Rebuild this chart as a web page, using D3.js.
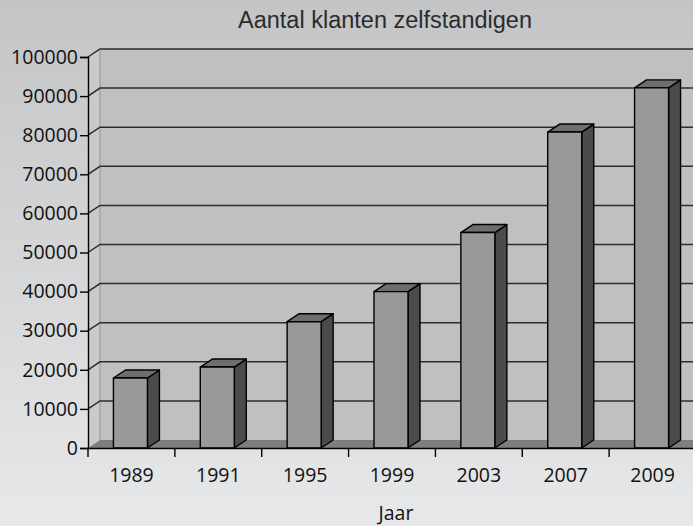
<!DOCTYPE html>
<html>
<head>
<meta charset="utf-8">
<script src="https://cdn.jsdelivr.net/npm/d3@7"></script>
<style>
  body { margin: 0; padding: 0; }
  svg { display: block; }
</style>
</head>
<body>
<div class="chart"></div>
<script>
// data
const years = ['1989', '1991', '1995', '1999', '2003', '2007', '2009'];
const klanten = [17900, 20700, 32300, 40000, 55100, 80800, 92100];
const yTicks = [0, 10000, 20000, 30000, 40000, 50000, 60000, 70000, 80000, 90000, 100000];

const W = 693, H = 526;
const plotLeft = 88, plotBottom = 448, plotTop = 57, plotRight = 696;
const dx = 12, dy = 8; // 3d depth

const svg = d3.select('.chart').append('svg')
    .attr('width', W)
    .attr('height', H);

const grad = svg.append('defs').append('linearGradient')
    .attr('id', 'bg')
    .attr('x1', 0).attr('y1', 0).attr('x2', 0).attr('y2', 1);
grad.append('stop').attr('offset', '0%').attr('stop-color', '#c3c4c6');
grad.append('stop').attr('offset', '100%').attr('stop-color', '#e7e8ea');

svg.append('rect')
    .attr('width', W).attr('height', H)
    .attr('fill', 'url(#bg)');

const x = d3.scaleBand()
    .domain(years)
    .range([plotLeft, plotRight]);

const y = d3.scaleLinear()
    .domain([0, 100000])
    .range([plotBottom, plotTop]);

// walls
svg.append('polygon')
    .attr('points', [[plotLeft, y(0)], [plotLeft, y(100000)], [plotLeft + dx, y(100000) - dy], [plotLeft + dx, y(0) - dy]].join(' '))
    .attr('fill', '#cacaca');

svg.append('rect')
    .attr('x', plotLeft + dx)
    .attr('y', y(100000) - dy)
    .attr('width', W - plotLeft - dx + 10)
    .attr('height', y(0) - y(100000))
    .attr('fill', '#c0c0c0');

svg.append('line')
    .attr('x1', plotLeft + dx).attr('x2', plotLeft + dx)
    .attr('y1', y(100000) - dy).attr('y2', y(0) - dy)
    .attr('stroke', '#9c9c9c')
    .attr('stroke-width', 1.2);

// gridlines
svg.append('g')
    .selectAll('path')
    .data(yTicks.filter(d => d > 0))
    .enter()
    .append('path')
    .attr('d', d => `M${plotLeft},${y(d)} L${plotLeft + dx},${y(d) - dy} L${W + 10},${y(d) - dy}`)
    .attr('fill', 'none')
    .attr('stroke', '#2c2c2c')
    .attr('stroke-width', 1.5);

// floor
svg.append('polygon')
    .attr('points', [[plotLeft, y(0)], [plotLeft + dx, y(0) - dy], [W + 10, y(0) - dy], [W + 10, y(0)]].join(' '))
    .attr('fill', '#7e7e7e');

// bars
const bw = 34;
const bar = svg.append('g')
    .selectAll('g')
    .data(years.map((d, i) => ({ year: d, value: klanten[i] })))
    .enter()
    .append('g')
    .attr('stroke', '#000')
    .attr('stroke-width', 1.4)
    .attr('stroke-linejoin', 'round');

const bx = d => x(d.year) + (x.bandwidth() - bw) / 2 - 1;

bar.append('polygon')
    .attr('points', d => [[bx(d) + bw, y(d.value)], [bx(d) + bw + dx, y(d.value) - dy],
        [bx(d) + bw + dx, y(0) - dy], [bx(d) + bw, y(0)]].join(' '))
    .attr('fill', '#4b4b4b');

bar.append('polygon')
    .attr('points', d => [[bx(d), y(d.value)], [bx(d) + dx, y(d.value) - dy],
        [bx(d) + bw + dx, y(d.value) - dy], [bx(d) + bw, y(d.value)]].join(' '))
    .attr('fill', '#6e6e6e');

bar.append('rect')
    .attr('x', bx)
    .attr('y', d => y(d.value))
    .attr('width', bw)
    .attr('height', d => y(0) - y(d.value))
    .attr('fill', '#999999');

// axes
const yAxis = svg.append('g')
    .attr('transform', `translate(${plotLeft},0)`)
    .call(d3.axisLeft(y).tickValues(yTicks).tickFormat(d3.format('d')).tickSize(8).tickPadding(2));

const xAxis = svg.append('g')
    .attr('transform', `translate(0,${plotBottom})`)
    .call(d3.axisBottom(x).tickSize(0).tickPadding(20));

[yAxis, xAxis].forEach(a => {
    a.select('.domain').attr('stroke', '#000').attr('stroke-width', 1.4);
    a.selectAll('line').attr('stroke', '#000').attr('stroke-width', 1.4);
    a.selectAll('text')
        .attr('fill', '#111')
        .style('font-family', '"Open Sans", sans-serif')
        .style('font-size', '19.5px');
});
xAxis.select('.domain').attr('d', `M${plotLeft},0.5H${W + 10}`);

// tick marks between the categories
svg.append('g')
    .selectAll('line')
    .data(years.concat(['end']))
    .enter()
    .append('line')
    .attr('x1', (d, i) => plotLeft + i * x.bandwidth())
    .attr('x2', (d, i) => plotLeft + i * x.bandwidth())
    .attr('y1', plotBottom)
    .attr('y2', plotBottom + 9)
    .attr('stroke', '#000')
    .attr('stroke-width', 1.4);

svg.append('text')
    .text('Aantal klanten zelfstandigen')
    .attr('x', 385)
    .attr('y', 28)
    .attr('text-anchor', 'middle')
    .attr('fill', '#2b2b2b')
    .style('font-family', '"Liberation Sans", Arial, sans-serif')
    .style('font-size', '23.5px');

svg.append('text')
    .text('Jaar')
    .attr('x', 396)
    .attr('y', 520)
    .attr('text-anchor', 'middle')
    .attr('fill', '#111')
    .style('font-family', '"Open Sans", sans-serif')
    .style('font-size', '19.5px');
</script>
</body>
</html>
